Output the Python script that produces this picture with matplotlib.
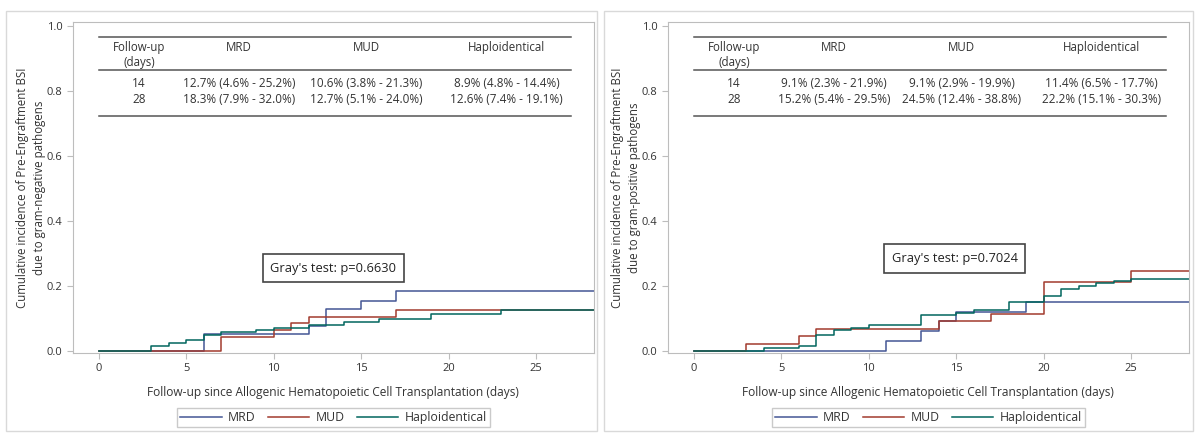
import matplotlib
matplotlib.use("Agg")
import matplotlib.pyplot as plt
from matplotlib.patches import Rectangle

plt.rcParams['font.family'] = ['Open Sans', 'DejaVu Sans']
plt.rcParams['font.size'] = 8

# cumulative incidence step data (event day, cumulative incidence)
gn_mrd_t = [0, 6, 12, 13, 15, 17]
gn_mrd_y = [0, 0.051, 0.077, 0.128, 0.154, 0.183]
gn_mud_t = [0, 7, 10, 11, 12, 17]
gn_mud_y = [0, 0.042, 0.064, 0.085, 0.106, 0.127]
gn_hap_t = [0, 3, 4, 5, 6, 7, 9, 10, 12, 14, 16, 19, 23]
gn_hap_y = [0, 0.015, 0.025, 0.035, 0.050, 0.060, 0.065, 0.070, 0.079, 0.089, 0.100, 0.113, 0.126]

gp_mrd_t = [0, 11, 13, 14, 15, 19]
gp_mrd_y = [0, 0.030, 0.061, 0.091, 0.121, 0.152]
gp_mud_t = [0, 3, 6, 7, 14, 17, 20, 25]
gp_mud_y = [0, 0.023, 0.046, 0.068, 0.091, 0.113, 0.213, 0.245]
gp_hap_t = [0, 4, 6, 7, 8, 9, 10, 13, 15, 16, 18, 20, 21, 22, 23, 24, 25]
gp_hap_y = [0, 0.008, 0.016, 0.050, 0.064, 0.070, 0.080, 0.112, 0.118, 0.126, 0.151,
            0.169, 0.190, 0.200, 0.210, 0.215, 0.222]

last_followup = 28.5

groups = ['MRD', 'MUD', 'Haploidentical']
colors = ['#445694', '#A23A2E', '#01665E']

table_days = ['14', '28']
gn_table = [['12.7% (4.6% - 25.2%)', '10.6% (3.8% - 21.3%)', '8.9% (4.8% - 14.4%)'],
            ['18.3% (7.9% - 32.0%)', '12.7% (5.1% - 24.0%)', '12.6% (7.4% - 19.1%)']]
gp_table = [['9.1% (2.3% - 21.9%)', '9.1% (2.9% - 19.9%)', '11.4% (6.5% - 17.7%)'],
            ['15.2% (5.4% - 29.5%)', '24.5% (12.4% - 38.8%)', '22.2% (15.1% - 30.3%)']]

gn_p = "Gray's test: p=0.6630"
gp_p = "Gray's test: p=0.7024"

ylabels = ['Cumulative incidence of Pre-Engraftment BSI\ndue to gram-negative pathogens',
           'Cumulative incidence of Pre-Engraftment BSI\ndue to gram-positive pathogens']
xlabel = 'Follow-up since Allogenic Hematopoietic Cell Transplantation (days)'

W, H = 1195, 433
fig = plt.figure(figsize=(W / 100, H / 100), dpi=100)

# panel frames
for x0, x1 in [(6, 597), (604, 1193)]:
    fig.patches.append(Rectangle((x0 / W, 1 - 431 / H), (x1 - x0) / W, (431 - 11) / H,
                                 transform=fig.transFigure, fill=False,
                                 edgecolor='#d9d9d9', lw=1))

panels = [
    (72.7, [(gn_mrd_t, gn_mrd_y), (gn_mud_t, gn_mud_y), (gn_hap_t, gn_hap_y)],
     gn_table, gn_p, (13.4, 0.255), ylabels[0]),
    (667.7, [(gp_mrd_t, gp_mrd_y), (gp_mud_t, gp_mud_y), (gp_hap_t, gp_hap_y)],
     gp_table, gp_p, (14.9, 0.285), ylabels[1]),
]

ax_w = (594 - 72.7) / W
ax_b = 1 - 353 / H
ax_h = (353 - 22) / H
txt = '#333333'
col_x = [2.3, 8.0, 15.3, 23.3]

for left, curves, tab, ptxt, ppos, ylab in panels:
    ax = fig.add_axes([left / W, ax_b, ax_w, ax_h])
    for (t, y), c, g in zip(curves, colors, groups):
        ax.step(list(t) + [last_followup], list(y) + [y[-1]], where='post',
                color=c, lw=1.1, label=g)
    ax.set_xlim(-1.5, 28.3)
    ax.set_ylim(-0.006, 1.011)
    ax.set_xticks([0, 5, 10, 15, 20, 25])
    ax.set_yticks([0, 0.2, 0.4, 0.6, 0.8, 1.0])
    ax.set_yticklabels(['0.0', '0.2', '0.4', '0.6', '0.8', '1.0'])
    for s in ax.spines.values():
        s.set_color('#bdbdbd')
    ax.tick_params(colors='#bdbdbd', labelcolor=txt, labelsize=8, length=4)
    ax.set_xlabel(xlabel, color=txt, fontsize=8.6, labelpad=8)
    ax.set_ylabel(ylab, color=txt, fontsize=8.3, linespacing=1.4)
    ax.yaxis.set_label_coords(-0.052, 0.5)

    # inset table
    for yy in [0.964, 0.864, 0.722]:
        ax.plot([0, 27], [yy, yy], color='#555555', lw=1.1)
    ax.text(col_x[0], 0.909, 'Follow-up\n(days)', ha='center', va='center',
            color=txt, fontsize=8.3, linespacing=1.25)
    for cx, g in zip(col_x[1:], groups):
        ax.text(cx, 0.933, g, ha='center', va='center', color=txt, fontsize=8.3)
    for row, yy, d in zip(tab, [0.821, 0.772], table_days):
        ax.text(col_x[0], yy, d, ha='center', va='center', color=txt, fontsize=8.5)
        for cx, v in zip(col_x[1:], row):
            ax.text(cx, yy, v, ha='center', va='center', color=txt, fontsize=8.5)

    ax.text(ppos[0], ppos[1], ptxt, ha='center', va='center', color='#222222',
            fontsize=9.3,
            bbox=dict(boxstyle='square,pad=0.6', facecolor='white',
                      edgecolor='#444444', lw=1.2))

    cx = (left + ax_w * W / 2) / W
    fig.legend(*ax.get_legend_handles_labels(), loc='center', ncol=3,
               bbox_to_anchor=(cx, 1 - 417.5 / H), frameon=True, fancybox=False,
               edgecolor='#bdbdbd', fontsize=8.8, handlelength=3.4,
               handletextpad=0.5, columnspacing=1.0, borderpad=0.25,
               labelcolor=txt)

fig.savefig('out.png', dpi=100)
